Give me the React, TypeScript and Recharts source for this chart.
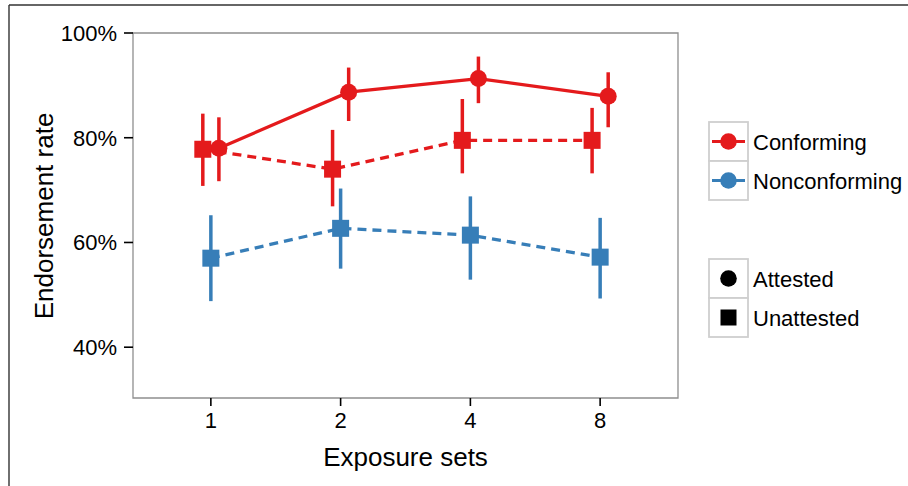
import React from 'react';
import {
  ComposedChart,
  Scatter,
  XAxis,
  YAxis,
  ErrorBar,
  ReferenceArea,
} from 'recharts';

// exposure set categories (x axis)
const exposureSets = ['1', '2', '4', '8'];

// Conforming, attested (solid line, circles)
const conformingAttested = [78.0, 88.7, 91.3, 87.9];
const conformingAttestedLow = [71.7, 83.2, 86.6, 82.0];
const conformingAttestedHigh = [83.9, 93.4, 95.5, 92.5];

// Conforming, unattested (dashed line, squares)
const conformingUnattested = [77.8, 74.0, 79.5, 79.5];
const conformingUnattestedLow = [70.8, 66.9, 73.2, 73.2];
const conformingUnattestedHigh = [84.6, 81.5, 87.4, 85.7];

// Nonconforming, unattested (dashed line, squares)
const nonconformingUnattested = [57.0, 62.7, 61.4, 57.2];
const nonconformingUnattestedLow = [48.8, 55.0, 52.9, 49.3];
const nonconformingUnattestedHigh = [65.2, 70.3, 68.8, 64.7];

const yTicks = [40, 60, 80, 100];

const RED = '#E41A1C';
const BLUE = '#377EB8';
const FONT = '"Liberation Sans", Arial, Helvetica, sans-serif';
const DODGE = 0.062;

const makeSeries = (vals: number[], lo: number[], hi: number[], dodge: number) =>
  vals.map((v, i) => ({ x: i + dodge, y: v, err: [v - lo[i], hi[i] - v] }));

const circleShape = (color: string) => (props: any) =>
  <circle cx={props.cx} cy={props.cy} r={8.5} fill={color} />;

const squareShape = (color: string) => (props: any) =>
  <rect x={props.cx - 8.5} y={props.cy - 8.5} width={17} height={17} fill={color} />;

const Overlay: React.FC = () => (
  <svg
    width={908}
    height={486}
    style={{ position: 'absolute', left: 0, top: 0, pointerEvents: 'none' }}
    fontFamily={FONT}
  >
    {/* figure frame */}
    <line x1={9} y1={5} x2={908} y2={5} stroke="#333" strokeWidth={1.4} />
    <line x1={9} y1={5} x2={9} y2={486} stroke="#333" strokeWidth={1.4} />

    {/* axis titles */}
    <text x={405.5} y={466} textAnchor="middle" fontSize={26} fill="#000">Exposure sets</text>
    <text transform="translate(53,216) rotate(-90)" textAnchor="middle" fontSize={26} fill="#000">
      Endorsement rate
    </text>

    {/* colour legend */}
    {[{ label: 'Conforming', color: RED }, { label: 'Nonconforming', color: BLUE }].map((d, i) => {
      const y0 = 122 + i * 39;
      return (
        <g key={d.label}>
          <rect x={709} y={y0} width={39} height={39} fill="#fff" stroke="#cfcfcf" strokeWidth={1.8} />
          <line x1={712} x2={745} y1={y0 + 19.5} y2={y0 + 19.5} stroke={d.color} strokeWidth={3.2} />
          <circle cx={728.5} cy={y0 + 19.5} r={8.3} fill={d.color} />
          <text x={753} y={y0 + 19.5 + 8} fontSize={22} fill="#000">{d.label}</text>
        </g>
      );
    })}

    {/* shape legend */}
    {['Attested', 'Unattested'].map((label, i) => {
      const y0 = 259 + i * 39;
      return (
        <g key={label}>
          <rect x={709} y={y0} width={39} height={39} fill="#fff" stroke="#cfcfcf" strokeWidth={1.8} />
          {i === 0 ? (
            <circle cx={728.5} cy={y0 + 19.5} r={8.3} fill="#000" />
          ) : (
            <rect x={720.5} y={y0 + 11.5} width={16} height={16} fill="#000" />
          )}
          <text x={753} y={y0 + 19.5 + 8} fontSize={22} fill="#000">{label}</text>
        </g>
      );
    })}
  </svg>
);

const App: React.FC = () => {
  const caData = makeSeries(conformingAttested, conformingAttestedLow, conformingAttestedHigh, DODGE);
  const cuData = makeSeries(conformingUnattested, conformingUnattestedLow, conformingUnattestedHigh, -DODGE);
  const nuData = makeSeries(nonconformingUnattested, nonconformingUnattestedLow, nonconformingUnattestedHigh, 0);

  const tickStyle = { fontSize: 22, fill: '#000', fontFamily: FONT };

  return (
    <div style={{ position: 'absolute', left: 0, top: 0, width: 908, height: 486, background: '#fff' }}>
      <ComposedChart
        width={908}
        height={486}
        margin={{ top: 33, right: 230, bottom: 38, left: 53 }}
      >
        <XAxis
          type="number"
          dataKey="x"
          domain={[-0.6, 3.6]}
          allowDataOverflow
          ticks={[0, 1, 2, 3]}
          tickFormatter={(i: number) => exposureSets[i]}
          tick={tickStyle}
          tickLine={{ stroke: '#000', strokeWidth: 1.6 }}
          tickSize={8}
          tickMargin={6}
          axisLine={false}
          height={50}
        />
        <YAxis
          type="number"
          dataKey="y"
          domain={[30.3, 100]}
          allowDataOverflow
          ticks={yTicks}
          tickFormatter={(v: number) => `${v}%`}
          tick={tickStyle}
          tickLine={{ stroke: '#000', strokeWidth: 1.6 }}
          tickSize={9}
          tickMargin={7}
          axisLine={false}
          width={80}
        />
        <ReferenceArea
          x1={-0.6}
          x2={3.6}
          y1={30.3}
          y2={100}
          fill="none"
          stroke="#8f8f8f"
          strokeWidth={1.3}
        />
        <Scatter
          data={caData}
          fill={RED}
          line={{ stroke: RED, strokeWidth: 3.3 }}
          lineType="joint"
          shape={circleShape(RED)}
          isAnimationActive={false}
        >
          <ErrorBar dataKey="err" direction="y" width={0} stroke={RED} strokeWidth={3.5} isAnimationActive={false} />
        </Scatter>
        <Scatter
          data={cuData}
          fill={RED}
          line={{ stroke: RED, strokeWidth: 3.3, strokeDasharray: '9 6' }}
          lineType="joint"
          shape={squareShape(RED)}
          isAnimationActive={false}
        >
          <ErrorBar dataKey="err" direction="y" width={0} stroke={RED} strokeWidth={3.5} isAnimationActive={false} />
        </Scatter>
        <Scatter
          data={nuData}
          fill={BLUE}
          line={{ stroke: BLUE, strokeWidth: 3.3, strokeDasharray: '9 6' }}
          lineType="joint"
          shape={squareShape(BLUE)}
          isAnimationActive={false}
        >
          <ErrorBar dataKey="err" direction="y" width={0} stroke={BLUE} strokeWidth={3.5} isAnimationActive={false} />
        </Scatter>
      </ComposedChart>
      <Overlay />
    </div>
  );
};

export default App;
